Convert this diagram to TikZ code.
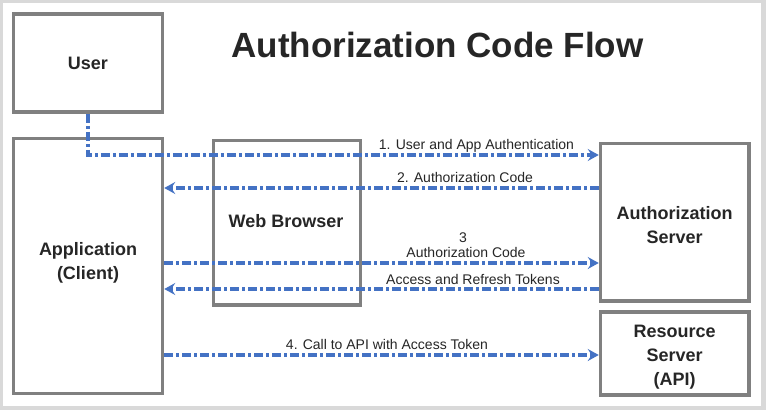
\documentclass[tikz,border=0pt]{standalone}
\usepackage{fontspec}
\setmainfont{Liberation Sans}
\usetikzlibrary{arrows.meta}
\definecolor{boxgray}{HTML}{808080}
\definecolor{flowblue}{HTML}{4472C4}
\definecolor{ink}{HTML}{262626}
\definecolor{framegray}{HTML}{D9D9D9}
\begin{document}
\begin{tikzpicture}[x=1pt,y=-1pt,
  box/.style={draw=boxgray, line width=3.5pt, fill=white, inner sep=0pt},
  boxtxt/.style={text=ink, font=\fontsize{18}{24}\selectfont\bfseries, align=center, anchor=base, inner sep=0pt},
  flow/.style={draw=flowblue, line width=3.2pt, dash pattern=on 9pt off 3pt on 3pt off 3pt,
    -{Stealth[length=11pt,width=12pt,inset=4pt]}},
  lbl/.style={text=ink, font=\fontsize{14}{15}\selectfont, anchor=base, inner sep=0pt},
  ttl/.style={text=ink, font=\fontsize{35}{42}\selectfont\bfseries, anchor=base, inner sep=0pt}]
\useasboundingbox (0,0) rectangle (766,410);
\fill[framegray] (0,0) rectangle (766,410);
\fill[white] (3,3) rectangle (761,405.5);

\node[ttl] (title) at (437.5,57) {Authorization Code Flow};

\node[box, minimum width=149pt, minimum height=98pt] (user) at (88,63) {};
\node[box, minimum width=149pt, minimum height=255pt] (app) at (88,266) {};
\node[box, minimum width=146.8pt, minimum height=164.3pt] (web) at (287.1,222.85) {};
\node[box, minimum width=148.3pt, minimum height=157.5pt] (auth) at (674.65,222.25) {};
\node[box, minimum width=148.3pt, minimum height=83.4pt] (res) at (674.65,353.5) {};

% base anchor of a multi-line node is the baseline of its last line
\node[boxtxt] (usertxt) at (88,69.5) {User};
\node[boxtxt] (apptxt) at (88,279.5) {Application\\(Client)};
\node[boxtxt] (webtxt) at (286,227.5) {Web Browser};
\node[boxtxt] (authtxt) at (674.65,243.2) {Authorization\\Server};
\node[boxtxt] (restxt) at (674.65,385.1) {Resource\\Server\\(API)};

\coordinate (l1) at (0,155);
\coordinate (l2) at (0,188);
\coordinate (l3) at (0,263);
\coordinate (l4) at (0,289);
\coordinate (l5) at (0,355);

\draw[flow] (user.south) |- (auth.west |- l1);
\draw[flow] (auth.west |- l2) -- (app.east |- l2);
\draw[flow] (app.east |- l3) -- (auth.west |- l3);
\draw[flow] (auth.west |- l4) -- (app.east |- l4);
\draw[flow] (app.east |- l5) -- (res.west |- l5);

\node[lbl] (t1) at (476.5,149.5) {1. User and App Authentication};
\node[lbl] (t2) at (465,182.7) {2. Authorization Code};
\node[lbl] (t3a) at (463,242) {3};
\node[lbl] (t3b) at (466,257.7) {Authorization Code};
\node[lbl] (t4) at (473,284) {Access and Refresh Tokens};
\node[lbl] (t5) at (387,349.5) {4. Call to API with Access Token};
\end{tikzpicture}
\end{document}
